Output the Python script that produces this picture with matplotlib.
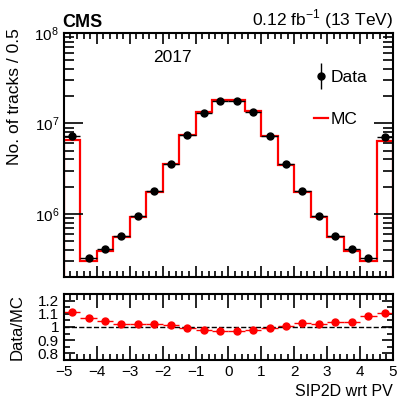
import numpy as np
import matplotlib.pyplot as plt
from matplotlib.ticker import MultipleLocator, FixedLocator, FuncFormatter, LogLocator
from matplotlib.legend_handler import HandlerErrorbar
from matplotlib.container import ErrorbarContainer

plt.rcParams['font.family'] = ['Liberation Sans', 'DejaVu Sans']
plt.rcParams['mathtext.fontset'] = 'custom'
plt.rcParams['mathtext.rm'] = 'Liberation Sans'

# bin edges of SIP2D, width 0.5
edges = np.arange(-5, 5.01, 0.5)
centers = 0.5 * (edges[:-1] + edges[1:])

# simulated (MC) counts per bin
mc = [6.6e6, 3.0e5, 3.9e5, 5.6e5, 9.3e5, 1.75e6, 3.55e6, 7.5e6, 1.33e7, 1.83e7,
      1.83e7, 1.37e7, 7.3e6, 3.5e6, 1.72e6, 9.2e5, 5.5e5, 3.9e5, 3.0e5, 6.4e6]
# observed counts per bin
data = [7.33e6, 3.21e5, 4.08e5, 5.71e5, 9.53e5, 1.785e6, 3.59e6, 7.43e6, 1.30e7, 1.775e7,
        1.775e7, 1.343e7, 7.26e6, 3.535e6, 1.772e6, 9.38e5, 5.69e5, 4.06e5, 3.24e5, 7.07e6]

mc = np.array(mc)
data = np.array(data)
ratio = data / mc

fig = plt.figure(figsize=(3.99, 3.99), dpi=100)
ax = fig.add_axes([0.160, 0.306, 0.825, 0.611])
rax = fig.add_axes([0.160, 0.098, 0.825, 0.165])

# main panel
ax.stairs(mc, edges, color='red', lw=1.6, label='MC')
ax.errorbar(centers, data, xerr=0.25, fmt='o', color='black', ms=5, lw=1,
            capsize=0)
ax.errorbar([np.nan], [np.nan], yerr=[1], fmt='o', color='black', ms=5, lw=1,
            label='Data')
ax.set_yscale('log')
ax.set_xlim(-5, 5)
ax.set_ylim(2e5, 1e8)
ax.yaxis.set_major_locator(LogLocator(base=10, numticks=10))
ax.yaxis.set_minor_locator(LogLocator(base=10, subs=np.arange(2, 10), numticks=20))
ax.xaxis.set_major_locator(MultipleLocator(1))
ax.xaxis.set_minor_locator(MultipleLocator(0.2))
ax.tick_params(labelbottom=False)
ax.set_ylabel('No. of tracks / 0.5', fontsize=12.5, loc='top')
ax.yaxis.set_label_coords(-0.128, 1.02)

handles, labels = ax.get_legend_handles_labels()
order = [labels.index('Data'), labels.index('MC')]
ax.legend([handles[i] for i in order], [labels[i] for i in order],
          loc='upper right', bbox_to_anchor=(0.97, 0.915), frameon=False,
          fontsize=12.5, handlelength=0.8, handletextpad=0.15, labelspacing=1.55,
          handler_map={ErrorbarContainer: HandlerErrorbar(yerr_size=0.75)})

ax.text(0.33, 0.88, '2017', transform=ax.transAxes, fontsize=12.5, ha='center')
ax.text(-0.005, 1.01, 'CMS', transform=ax.transAxes, fontsize=13, fontweight='bold',
        ha='left', va='bottom')
ax.text(1.0, 1.01, r'0.12 fb$^{-1}$ (13 TeV)', transform=ax.transAxes, fontsize=12.5,
        ha='right', va='bottom')

# ratio panel
rax.errorbar(centers, ratio, xerr=0.25, fmt='o', color='red', ms=5, lw=1, capsize=0)
rax.axhline(1.0, color='black', ls='--', lw=1)
rax.set_xlim(-5, 5)
rax.set_ylim(0.75, 1.25)
rax.yaxis.set_major_locator(FixedLocator([0.8, 0.9, 1.0, 1.1, 1.2]))
rax.yaxis.set_minor_locator(MultipleLocator(0.05))
rax.yaxis.set_major_formatter(FuncFormatter(lambda v, p: ('%g' % round(v, 2))))
rax.xaxis.set_major_locator(MultipleLocator(1))
rax.xaxis.set_minor_locator(MultipleLocator(0.2))
rax.set_ylabel('Data/MC', fontsize=12)
rax.yaxis.set_label_coords(-0.119, 0.5)
rax.set_xlabel('SIP2D wrt PV', fontsize=11.5, loc='right')
rax.xaxis.set_major_formatter(FuncFormatter(lambda v, p: ('%d' % v).replace('-', '\u2212')))

for a in (ax, rax):
    a.tick_params(which='both', direction='in', top=True, right=True, labelsize=11,
                  width=1.2)
    a.tick_params(which='major', length=8)
    a.tick_params(which='minor', length=4)
    for s in a.spines.values():
        s.set_linewidth(1.5)
ax.tick_params(axis='y', which='major', length=14)
ax.tick_params(axis='y', which='minor', length=7)
rax.tick_params(axis='x', which='major', length=10)

fig.savefig('out.png', dpi=100)
